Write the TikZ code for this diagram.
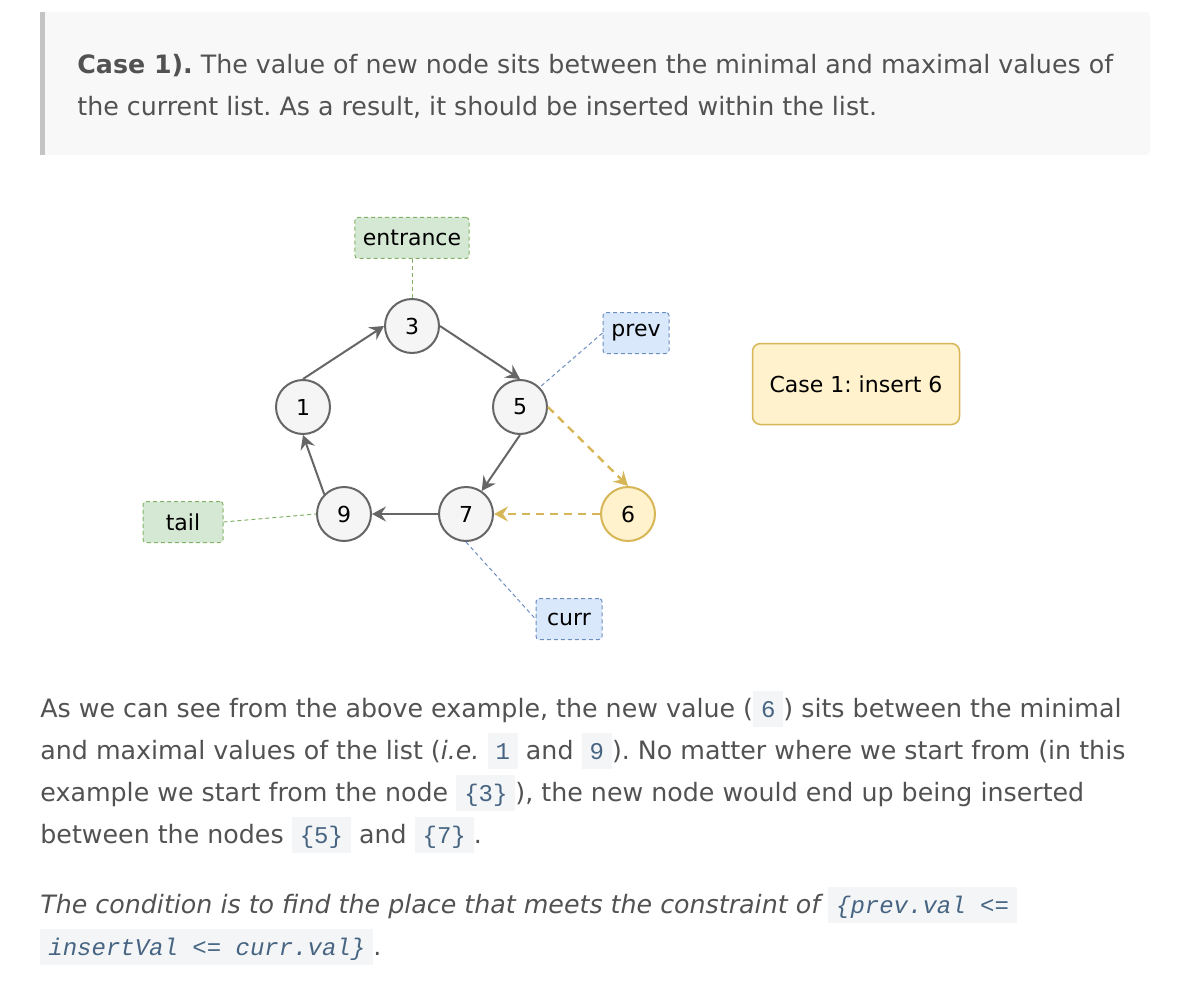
\documentclass[tikz,border=0pt]{standalone}
\usepackage{fontspec}
\setmainfont{DejaVu Sans}
\setmonofont{Liberation Mono}
\newfontfamily\sketchfont{DejaVu Sans}
\usetikzlibrary{positioning, arrows.meta}
\frenchspacing

\definecolor{nodefill}{HTML}{F5F5F5}
\definecolor{nodeline}{HTML}{666666}
\definecolor{yfill}{HTML}{FFF2CC}
\definecolor{yline}{HTML}{D6B656}
\definecolor{gfill}{HTML}{D5E8D4}
\definecolor{gline}{HTML}{82B366}
\definecolor{bfill}{HTML}{DAE8FC}
\definecolor{bline}{HTML}{6C8EBF}
\definecolor{bodytext}{HTML}{525252}
\definecolor{quotebg}{HTML}{F8F8F8}
\definecolor{quotebar}{HTML}{C4C4C4}
\definecolor{codebg}{HTML}{F3F5F7}
\definecolor{codefg}{HTML}{476582}

\newcommand{\cd}[1]{{\setlength{\fboxsep}{0pt}\colorbox{codebg}{\raisebox{0pt}[13pt][5pt]{\hspace{4pt}\ttfamily\fontsize{12}{14}\selectfont\color{codefg}#1\hspace{4pt}}}}}

\begin{document}
\begin{tikzpicture}[
				x=0.5pt, y=-0.5pt,
				item/.style={circle, draw=nodeline, fill=nodefill, line width=1pt, minimum size=27pt, inner sep=0pt, font=\sketchfont\fontsize{11}{13}\selectfont},
				tag/.style={draw, dashed, dash pattern=on 2pt off 1.5pt, line width=0.5pt, rounded corners=1.5pt, minimum height=20.5pt, minimum width=33pt, inner xsep=4pt, font=\sketchfont\fontsize{11}{13}\selectfont},
				link/.style={draw=nodeline, line width=1pt, -{Stealth[length=7pt, width=7.5pt, inset=2.5pt]}},
				hint/.style={draw=yline, line width=1.2pt, dash pattern=on 4pt off 3pt, -{Stealth[length=7pt, width=7.5pt, inset=2.5pt]}},
				pointer/.style={dashed, dash pattern=on 2pt off 1.5pt, line width=0.5pt},
				prose/.style={anchor=base west, inner sep=0pt, text=bodytext, font=\fontsize{12.65}{15}\selectfont}
				]
				\useasboundingbox (0,0) rectangle (1188,984);
				% quote block
				\fill[quotebg, rounded corners=2pt] (40,12) rectangle (1150,155);
				\fill[quotebar] (40,12) rectangle (45,155);
				\node[prose] (q1) at (77,74) {\textbf{Case 1).} The value of new node sits between the minimal and maximal values of};
				\node[prose] (q2) at (77,116) {the current list. As a result, it should be inserted within the list.};
				% circular list
				\node[item] (n3) at (412,326) {3};
				\node[item] (n1) at (303,407) {1};
				\node[item] (n5) at (520,407) {5};
				\node[item] (n9) at (344,514) {9};
				\node[item] (n7) at (466,514) {7};
				\node[item, draw=yline, fill=yfill] (n6) at (628,514) {6};
				\draw[link] (n1.north) -- (n3.west);
				\draw[link] (n3.east) -- (n5.north);
				\draw[link] (n5.south) -- (n7);
				\draw[link] (n7.west) -- (n9.east);
				\draw[link] (n9.north west) -- (n1.south);
				\draw[hint] (n5.east) -- (n6.north);
				\draw[hint] (n6.west) -- (n7.east);
				% pointers
				\node[tag, draw=gline, fill=gfill] (entrance) at (412,238) {entrance};
				\node[tag, draw=bline, fill=bfill] (prev) at (636,333) {prev};
				\node[tag, draw=gline, fill=gfill, minimum width=40pt] (tail) at (183,522) {tail};
				\node[tag, draw=bline, fill=bfill] (curr) at (569,619) {curr};
				\draw[pointer, gline] (entrance.south) -- (n3.north);
				\draw[pointer, bline] (prev.west) -- (n5.north east);
				\draw[pointer, gline] (tail.east) -- (n9.west);
				\draw[pointer, bline] (n7.south) -- (curr.west);
				\node[draw=yline, fill=yfill, line width=0.75pt, rounded corners=4pt, minimum width=103.5pt, minimum height=40.5pt, font=\sketchfont\fontsize{11}{13}\selectfont] (caption) at (856,384) {Case 1: insert 6};
				% explanation
				\node[prose] (p1) at (40,717) {As we can see from the above example, the new value (\cd{6}) sits between the minimal};
				\node[prose] (p2) at (40,759) {and maximal values of the list (\textit{i.e.} \cd{1} and \cd{9}). No matter where we start from (in this};
				\node[prose] (p3) at (40,801) {example we start from the node \cd{\{3\}}), the new node would end up being inserted};
				\node[prose] (p4) at (40,843) {between the nodes \cd{\{5\}} and \cd{\{7\}}.};
				\node[prose] (p5) at (40,913) {\itshape The condition is to find the place that meets the constraint of \cd{\itshape\{prev.val <=}};
				\node[prose] (p6) at (40,955) {\cd{\itshape insertVal <= curr.val\}}.};
\end{tikzpicture}
\end{document}
